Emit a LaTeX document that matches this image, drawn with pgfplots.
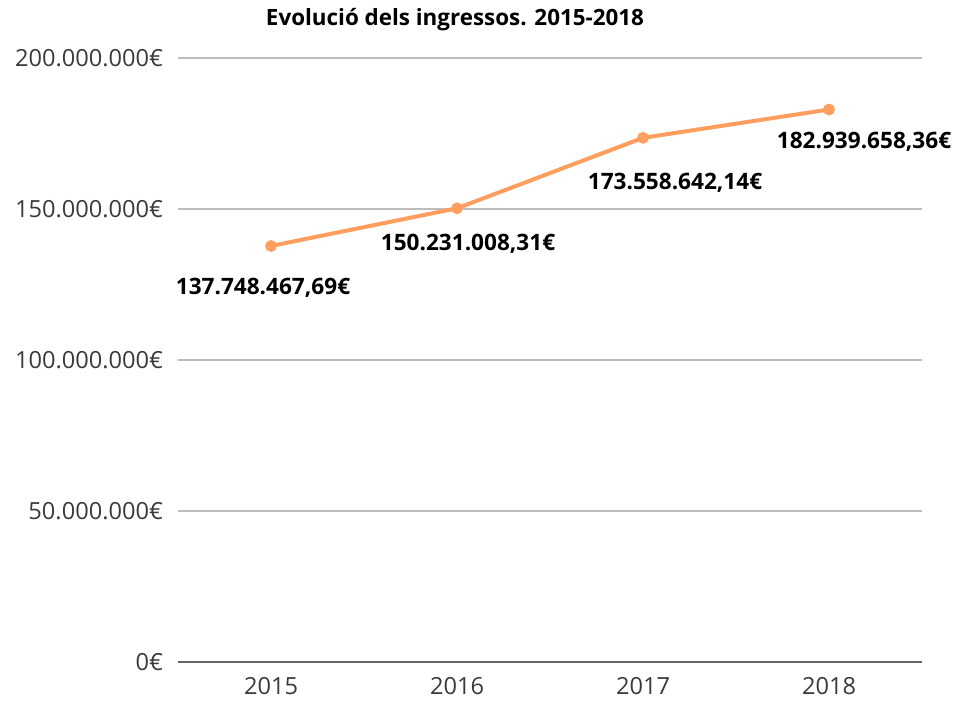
\documentclass[border=0pt]{standalone}
\usepackage{fontspec}
\setmainfont{Open Sans}
\usepackage{pgfplots}
\usepackage{pgfplotstable}
\pgfplotsset{compat=1.18}
\definecolor{lineorange}{HTML}{FF9E5E}
\definecolor{gridgray}{HTML}{BDBDBD}
\definecolor{axisgray}{HTML}{666666}
\definecolor{ticktext}{HTML}{3A3A3A}

% x  y  dx dy (pt)  label
\pgfplotstableread{
x y dx dy label
0 137748467.69 -4 -21 137.748.467,69€
1 150231008.31 5.5 -17.5 150.231.008,31€
2 173558642.14 16 -22.5 173.558.642,14€
3 182939658.36 17.5 -16 182.939.658,36€
}\ingressos

\begin{document}
\begin{tikzpicture}
\begin{axis}[
  scale only axis, width=372pt, height=302pt,
  xmin=-0.5, xmax=3.5, ymin=0, ymax=200000000,
  axis x line*=bottom, axis y line*=left,
  x axis line style={axisgray, line width=1pt},
  y axis line style={draw=none},
  xtick={0,1,2,3}, xticklabels={2015,2016,2017,2018},
  ytick={0,50000000,100000000,150000000,200000000},
  yticklabels={0€,50.000.000€,100.000.000€,150.000.000€,200.000.000€},
  scaled y ticks=false,
  ymajorgrids, grid style={gridgray, line width=0.6pt},
  major tick length=0pt,
  tick label style={font=\fontsize{11.8}{14}\selectfont, text=ticktext},
  yticklabel style={anchor=east, xshift=-4pt},
  xticklabel style={yshift=-4pt},
  clip=false,
]
\addplot[lineorange, line width=2pt, mark=*, mark size=1.9pt,
  mark options={fill=lineorange, draw=lineorange},
  point meta=explicit symbolic,
  visualization depends on={\thisrow{dx} \as \dx},
  visualization depends on={\thisrow{dy} \as \dy},
  nodes near coords,
  every node near coord/.style={anchor=center, xshift=\dx pt, yshift=\dy pt,
    font=\fontsize{11.3}{13}\selectfont\bfseries, text=black},
] table[x=x, y=y, meta=label] {\ingressos};
\end{axis}
\node[font=\fontsize{11.2}{13}\selectfont\bfseries, anchor=center]
  at ([xshift=138.5pt, yshift=321pt]current axis.south west) {Evolució dels ingressos. 2015-2018};
\pgfresetboundingbox
\path ([xshift=-89pt, yshift=-19pt]current axis.south west) rectangle ([xshift=16.5pt, yshift=29pt]current axis.north east);
\end{tikzpicture}
\end{document}
